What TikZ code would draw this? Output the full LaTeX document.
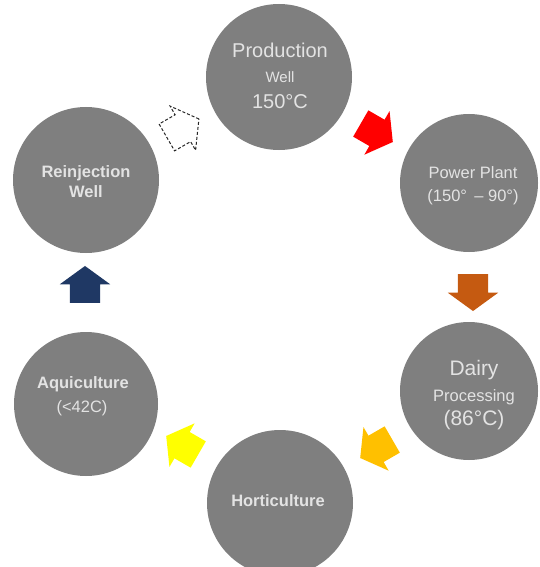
\documentclass[tikz,border=0pt]{standalone}
\usepackage{fontspec}
\setmainfont{Liberation Sans}
\usetikzlibrary{shapes.arrows}
\definecolor{cgray}{HTML}{7F7F7F}
\definecolor{ctext}{HTML}{E3E3E3}
\definecolor{cred}{HTML}{FF0000}
\definecolor{cbrown}{HTML}{C55A11}
\definecolor{corange}{HTML}{FFC000}
\definecolor{cyellow}{HTML}{FFFF00}
\definecolor{cnavy}{HTML}{1F3864}
\begin{document}
\begin{tikzpicture}[x=1pt,y=-1pt,
  stage/.style={circle,fill=cgray,draw=none,inner sep=0pt},
  lbl/.style={text=ctext,anchor=base,inner sep=0pt},
  blk/.style={single arrow,draw=none,inner xsep=0pt,inner ysep=15pt,
    minimum height=37pt,minimum width=50pt,single arrow head extend=10pt,
    single arrow tip angle=108},
]
\useasboundingbox (0,0) rectangle (539,567);
\clip (0,0) rectangle (539,567);
% stages
\node[stage,minimum size=146pt] (prod) at (279,77) {};
\node[stage,minimum size=138pt] (power) at (469,183) {};
\node[stage,minimum size=138pt] (dairy) at (469,391) {};
\node[stage,minimum size=146pt] (hort) at (280,503) {};
\node[stage,minimum size=144pt] (aqui) at (86,404) {};
\node[stage,minimum size=146pt] (rein) at (86,180) {};
% labels
\node[lbl,font=\fontsize{20}{24}\selectfont] (t1) at (280,58) {Production};
\node[lbl,font=\fontsize{15}{18}\selectfont] (t2) at (280,83) {Well};
\node[lbl,font=\fontsize{20}{24}\selectfont] (t3) at (280,109) {150°C};
\node[lbl,font=\fontsize{16.5}{20}\selectfont] (t4) at (473,178) {Power Plant};
\node[lbl,font=\fontsize{16.5}{20}\selectfont] (t5) at (473,201) {(150°\, – 90°)};
\node[lbl,font=\fontsize{21}{25}\selectfont] (t6) at (474,375) {Dairy};
\node[lbl,font=\fontsize{16.5}{20}\selectfont] (t7) at (474,401) {Processing};
\node[lbl,font=\fontsize{21}{25}\selectfont] (t8) at (474,425) {(86°C)};
\node[lbl,font=\bfseries\fontsize{16.5}{20}\selectfont] (t9) at (278,506) {Horticulture};
\node[lbl,font=\bfseries\fontsize{16.5}{20}\selectfont] (t10) at (83,388) {Aquiculture};
\node[lbl,font=\fontsize{16.5}{20}\selectfont] (t11) at (82,412) {(<42C)};
\node[lbl,font=\bfseries\fontsize{16.5}{20}\selectfont] (t12) at (86,177) {Reinjection};
\node[lbl,font=\bfseries\fontsize{16.5}{20}\selectfont] (t13) at (86,197) {Well};
% arrows
\node[blk,fill=cred,rotate=-30] (a1) at (372,130) {};
\node[blk,fill=cbrown,rotate=-90] (a2) at (473,287) {};
\node[blk,fill=corange,rotate=-150] (a3) at (381,446) {};
\node[blk,fill=cyellow,rotate=150] (a4) at (187,448) {};
\node[blk,fill=cnavy,rotate=90] (a5) at (85,290) {};
\node[blk,fill=white,draw=black!85,line width=1pt,dash pattern=on 3pt off 2pt,rotate=30] (a6) at (178,131) {};
\end{tikzpicture}
\end{document}
